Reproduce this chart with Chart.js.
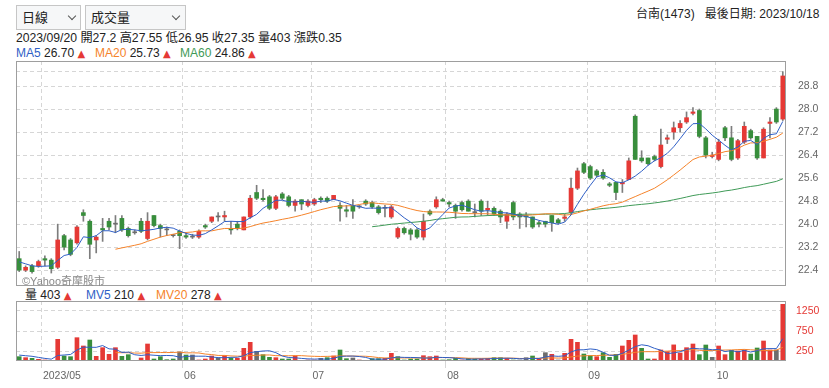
<!DOCTYPE html>
<html>
<head>
<meta charset="utf-8">
<script src="https://cdn.jsdelivr.net/npm/chart.js@4.4.0/dist/chart.umd.min.js"></script>
<style>
body { margin: 0; background: #fff; font-family: "Liberation Sans", "Noto Sans CJK TC", sans-serif; color: #222; }
#wrap { position: relative; width: 829px; height: 388px; overflow: hidden; }
.abs { position: absolute; white-space: nowrap; font-size: 12px; line-height: 14px; }
.sel { position: absolute; top: 5px; height: 25px; border: 1px solid #c6c6c6; background: #f6f7f8; box-sizing: border-box; font-size: 13px; line-height: 23px; padding-left: 5px; }
.sel i { position: absolute; top: 7px; width: 5px; height: 5px; border-right: 1.3px solid #555; border-bottom: 1.3px solid #555; transform: rotate(45deg); }
.up { color: #e53935; font-family: "DejaVu Sans", sans-serif; font-size: 10px; }
canvas { position: absolute; left: 0; }
</style>
</head>
<body>
<div id="wrap">
  <div class="sel" style="left:16px;width:65px;">日線<i style="left:52px"></i></div>
  <div class="sel" style="left:85px;width:101px;">成交量<i style="left:87px"></i></div>
  <div class="abs" style="left:636px;top:7px;">台南(1473)&nbsp;&nbsp;&nbsp;最後日期: 2023/10/18</div>
  <div class="abs" style="left:16px;top:31px;font-size:12.2px;">2023/09/20 開27.2 高27.55 低26.95 收27.35 量403 漲跌0.35</div>
  <div class="abs" style="left:16px;top:46px;"><span style="color:#2f5fc6">MA5</span> 26.70 <span class="up">▲</span></div>
  <div class="abs" style="left:95px;top:46px;"><span style="color:#f5832a">MA20</span> 25.73 <span class="up">▲</span></div>
  <div class="abs" style="left:180px;top:46px;"><span style="color:#3f9a57">MA60</span> 24.86 <span class="up">▲</span></div>

  <canvas id="price" width="829" height="225" style="top:61px"></canvas>
  <div class="abs" style="left:22px;top:274px;font-size:11px;color:#8a8a8a;">©Yahoo奇摩股市</div>

  <div class="abs" style="left:25px;top:288px;">量 403 <span class="up">▲</span></div>
  <div class="abs" style="left:86px;top:288px;"><span style="color:#2f5fc6">MV5</span> 210 <span class="up">▲</span></div>
  <div class="abs" style="left:156px;top:288px;"><span style="color:#f5832a">MV20</span> 278 <span class="up">▲</span></div>

  <canvas id="vol" width="829" height="87" style="top:301px"></canvas>
</div>

<script>
// trading days shown (2023)
const daysApr = [25, 26, 27, 28];
const daysMay = [2, 3, 4, 5, 8, 9, 10, 11, 12, 15, 16, 17, 18, 19, 22, 23, 24, 25, 26, 29, 30, 31];
const daysJun = [1, 2, 5, 6, 7, 8, 9, 12, 13, 14, 15, 16, 19, 20, 21, 26, 27, 28, 29, 30];
const daysJul = [3, 4, 5, 6, 7, 10, 11, 12, 13, 14, 17, 18, 19, 20, 21, 24, 25, 26, 27, 28, 31];
const daysAug = [1, 2, 4, 7, 8, 9, 10, 11, 14, 15, 16, 17, 18, 21, 22, 23, 24, 25, 28, 29, 30, 31];
const daysSep = [1, 4, 5, 6, 7, 8, 11, 12, 13, 14, 15, 18, 19, 20, 21, 22, 25, 26, 27, 28];
const daysOct = [2, 3, 4, 5, 6, 11, 12, 13, 16, 17, 18];

const monthTickLabels = ['2023/05', '06', '07', '08', '09', '10'];
const priceTicks = [22.4, 23.2, 24.0, 24.8, 25.6, 26.4, 27.2, 28.0, 28.8];
const priceTopGrid = 29.3; // unlabeled dashed line near the top
const volumeTicks = [250, 500, 750, 1000, 1250];

const open = [
  22.8, 22.4, 22.55, 22.55, 22.8, 22.75, 22.5, 23.6, 23.45, 23.35,
  24.4, 24.1, 23.45, 23.85, 24.1, 24.0, 24.2, 23.85, 23.7, 24.1,
  23.5, 24.3, 23.95, 23.8, 23.6, 23.75, 23.6, 23.55, 23.55, 23.95,
  24.1, 24.25, 24.25, 23.85, 24.0, 23.8, 24.25, 25.1, 24.9, 24.95,
  24.55, 25.05, 24.95, 24.65, 24.85, 24.65, 24.7, 24.9, 24.9, 24.85,
  24.65, 24.5, 24.65, 24.6, 24.8, 24.75, 24.6, 24.55, 24.25, 23.55,
  23.85, 23.8, 23.8, 23.55, 24.45, 24.6, 24.85, 24.75, 24.65, 24.75,
  24.8, 24.4, 24.8, 24.5, 24.55, 24.45, 24.1, 24.75, 24.35, 24.3,
  24.25, 24.05, 24.1, 24.3, 24.15, 24.2, 24.4, 25.25, 26.1, 26.0,
  25.85, 25.8, 25.4, 25.45, 25.4, 25.55, 27.75, 26.3, 26.3, 26.35,
  26.0, 26.95, 27.2, 27.35, 27.55, 27.85, 27.95, 27.0, 26.35, 26.25,
  27.35, 27.0, 26.3, 26.85, 27.25, 27.05, 26.3, 27.5, 28.0, 27.65
];
const high = [
  23.05, 22.55, 22.6, 22.75, 22.9, 22.8, 24.0, 23.65, 23.5, 23.95,
  24.5, 24.15, 23.6, 24.2, 24.2, 24.3, 24.3, 23.9, 23.8, 24.2,
  24.4, 24.3, 24.0, 23.9, 23.65, 23.8, 23.7, 23.65, 23.8, 24.0,
  24.25, 24.4, 24.45, 24.1, 24.1, 24.25, 25.0, 25.35, 25.2, 25.0,
  25.0, 25.1, 25.0, 24.85, 24.85, 24.85, 24.9, 24.95, 24.95, 25.0,
  24.75, 24.65, 24.85, 24.65, 24.85, 24.8, 24.65, 24.65, 24.65, 23.9,
  23.9, 23.85, 23.85, 24.35, 24.5, 24.95, 24.9, 24.8, 24.7, 24.8,
  24.85, 24.7, 24.85, 24.8, 24.6, 24.5, 24.4, 24.8, 24.4, 24.4,
  24.25, 24.1, 24.1, 24.3, 24.2, 24.35, 25.6, 25.95, 26.15, 26.05,
  25.9, 25.9, 25.45, 25.45, 25.55, 26.3, 27.8, 26.55, 26.3, 26.4,
  27.3, 27.1, 27.55, 27.6, 27.9, 28.05, 28.0, 27.05, 26.5, 26.95,
  27.4, 27.4, 26.95, 27.55, 27.3, 27.05, 27.35, 27.7, 28.05, 29.3
];
const low = [
  22.35, 22.35, 22.3, 22.5, 22.55, 22.3, 22.45, 23.1, 22.9, 23.3,
  24.1, 22.8, 23.0, 23.4, 23.8, 23.7, 23.75, 23.55, 23.65, 23.7,
  23.45, 23.9, 23.55, 23.6, 23.55, 23.15, 23.5, 23.5, 23.5, 23.85,
  24.05, 24.1, 24.1, 23.65, 23.8, 23.8, 24.2, 24.85, 24.8, 24.5,
  24.5, 24.85, 24.6, 24.45, 24.5, 24.6, 24.65, 24.75, 24.75, 24.85,
  24.1, 24.25, 24.2, 24.55, 24.65, 24.55, 24.35, 24.25, 24.2, 23.5,
  23.65, 23.45, 23.5, 23.45, 24.3, 24.55, 24.8, 24.6, 24.2, 24.45,
  24.45, 24.25, 24.3, 24.3, 24.3, 24.05, 23.85, 24.15, 23.85, 23.9,
  23.85, 23.9, 23.9, 23.75, 24.0, 24.1, 24.35, 25.2, 25.75, 25.55,
  25.65, 25.55, 25.3, 24.85, 25.1, 25.55, 26.25, 26.15, 26.05, 26.2,
  25.95, 26.8, 26.95, 27.2, 27.5, 27.8, 27.0, 26.3, 26.3, 26.2,
  26.9, 26.2, 26.25, 26.8, 26.95, 26.25, 26.3, 27.0, 27.5, 27.6
];
const close = [
  22.4, 22.5, 22.35, 22.7, 22.75, 22.45, 23.45, 23.2, 22.95, 23.9,
  24.3, 23.3, 23.55, 23.8, 23.9, 24.0, 23.8, 23.6, 23.7, 23.75,
  24.1, 23.95, 23.85, 23.8, 23.6, 23.6, 23.55, 23.55, 23.75, 23.9,
  24.25, 24.25, 24.3, 23.8, 23.85, 24.25, 24.9, 24.9, 24.85, 24.55,
  24.95, 24.9, 24.65, 24.8, 24.7, 24.8, 24.85, 24.85, 24.8, 25.0,
  24.55, 24.45, 24.45, 24.6, 24.7, 24.6, 24.4, 24.55, 24.6, 23.85,
  23.7, 23.65, 23.55, 24.1, 24.35, 24.85, 24.8, 24.7, 24.45, 24.5,
  24.45, 24.4, 24.45, 24.55, 24.35, 24.25, 24.35, 24.25, 24.25, 24.25,
  23.9, 24.0, 24.0, 24.05, 24.05, 24.25, 25.25, 25.85, 25.8, 25.6,
  25.7, 25.6, 25.35, 25.1, 25.45, 26.2, 26.25, 26.2, 26.1, 26.25,
  26.75, 27.0, 27.35, 27.5, 27.7, 27.9, 27.05, 26.4, 26.4, 26.85,
  27.0, 26.25, 26.9, 27.4, 27.0, 26.3, 27.3, 27.55, 27.55, 29.15
];
const volume = [
  108, 83, 67, 42, 25, 15, 542, 125, 108, 583,
  375, 525, 117, 333, 167, 333, 117, 158, 10, 75,
  425, 50, 108, 33, 50, 225, 150, 150, 25, 50,
  125, 75, 133, 67, 67, 317, 467, 242, 158, 92,
  83, 50, 50, 125, 15, 25, 25, 67, 83, 125,
  275, 58, 75, 25, 15, 58, 58, 67, 192, 108,
  25, 50, 50, 133, 108, 125, 25, 33, 67, 25,
  67, 50, 50, 67, 83, 83, 67, 25, 25, 83,
  125, 58, 208, 167, 25, 192, 542, 467, 175, 133,
  108, 208, 92, 167, 375, 517, 650, 317, 50, 50,
  275, 233, 403, 200, 333, 425, 158, 400, 92, 375,
  158, 267, 250, 275, 175, 325, 500, 275, 275, 1417
];
// the last few sessions before the visible window (feed the averages)
const priorCloses = [22.85, 22.7, 22.8, 22.7];
const priorVolumes = [160, 140, 180, 150];

const RED = '#e53935', GREEN = '#388e3c', FLAT = '#6d6d6d';
const BLUE_LINE = '#2f5fc6', ORANGE_LINE = '#f5832a', GREEN_LINE = '#3f9a57';
const GRID = '#d6d6d6';

const pad = n => (n < 10 ? '0' : '') + n;
const labels = [].concat(
  daysApr.map(d => '2023/04/' + pad(d)),
  daysMay.map(d => '2023/05/' + pad(d)),
  daysJun.map(d => '2023/06/' + pad(d)),
  daysJul.map(d => '2023/07/' + pad(d)),
  daysAug.map(d => '2023/08/' + pad(d)),
  daysSep.map(d => '2023/09/' + pad(d)),
  daysOct.map(d => '2023/10/' + pad(d))
);

// index of the first session of each month after the first one
const monthStarts = [];
labels.forEach((l, i) => {
  if (i > 0 && l.slice(0, 7) !== labels[i - 1].slice(0, 7)) monthStarts.push(i);
});

function movingAverage(values, prior, n) {
  const all = prior.concat(values);
  return values.map((v, i) => {
    const end = i + prior.length;
    if (end + 1 < n) return null;
    let s = 0;
    for (let k = end - n + 1; k <= end; k++) s += all[k];
    return s / n;
  });
}

const ma5 = movingAverage(close, priorCloses, 5);
const ma20 = movingAverage(close, priorCloses, 20);
const ma60 = movingAverage(close, priorCloses, 60);
const mv5 = movingAverage(volume, priorVolumes, 5);
const mv20 = movingAverage(volume, priorVolumes, 20);

const bodyColors = open.map((o, i) => close[i] > o ? RED : close[i] < o ? GREEN : FLAT);
const volColors = close.map((c, i) => {
  const prev = i === 0 ? priorCloses[priorCloses.length - 1] : close[i - 1];
  return c > prev ? RED : c < prev ? GREEN : FLAT;
});

const monthGrid = ctx => monthStarts.includes(ctx.index) ? GRID : 'rgba(0,0,0,0)';

// keep the plot box exactly where the panel is: no label overflow padding
function fixSize(prop, size) {
  return s => {
    s[prop] = size;
    s.paddingTop = 0; s.paddingBottom = 0; s.paddingLeft = 0; s.paddingRight = 0;
  };
}

const boxPlugin = {
  id: 'box',
  afterDatasetsDraw(chart) {
    const { ctx, chartArea: a } = chart;
    ctx.save();
    ctx.strokeStyle = '#9e9e9e';
    ctx.lineWidth = 1;
    ctx.strokeRect(a.left + 0.5, a.top + 0.5, a.right - a.left - 1, a.bottom - a.top - 1);
    ctx.restore();
  }
};

Chart.defaults.font.family = '"Liberation Sans", "Noto Sans CJK TC", sans-serif';

function line(data, color) {
  return { type: 'line', data, borderColor: color, borderWidth: 1, pointRadius: 0, tension: 0, order: 0 };
}

new Chart(document.getElementById('price'), {
  type: 'bar',
  data: {
    labels,
    datasets: [
      line(ma5, BLUE_LINE),
      line(ma20, ORANGE_LINE),
      line(ma60, GREEN_LINE),
      {
        data: open.map((o, i) => [o, close[i]]),
        backgroundColor: bodyColors,
        barThickness: 4, minBarLength: 1, grouped: false, order: 1
      },
      {
        data: low.map((l, i) => [l, high[i]]),
        backgroundColor: '#7d7d7d',
        barThickness: 1, grouped: false, order: 2
      }
    ]
  },
  options: {
    responsive: false,
    animation: false,
    devicePixelRatio: 1,
    layout: { autoPadding: false, padding: { left: 16, right: 0, top: 0, bottom: 0 } },
    plugins: { legend: { display: false }, tooltip: { enabled: false } },
    scales: {
      x: {
        ticks: { display: false, autoSkip: false },
        grid: { color: monthGrid, drawTicks: false },
        border: { display: false, dash: [4, 3] },
        afterFit: fixSize('height', 0)
      },
      y: {
        position: 'right',
        min: 21.85,
        max: 29.67,
        afterBuildTicks: s => { s.ticks = priceTicks.concat(priceTopGrid).map(v => ({ value: v })); },
        ticks: {
          callback: v => priceTicks.includes(v) ? v.toFixed(1) : '',
          padding: 12, color: '#666', font: { size: 10.5 }
        },
        grid: { color: GRID, drawTicks: false },
        border: { display: false, dash: [4, 3] },
        afterFit: fixSize('width', 43)
      }
    }
  },
  plugins: [boxPlugin]
});

new Chart(document.getElementById('vol'), {
  type: 'bar',
  data: {
    labels,
    datasets: [
      line(mv5, BLUE_LINE),
      line(mv20, ORANGE_LINE),
      { data: volume, backgroundColor: volColors, barThickness: 4, grouped: false, order: 1 }
    ]
  },
  options: {
    responsive: false,
    animation: false,
    devicePixelRatio: 1,
    layout: { autoPadding: false, padding: { left: 16, right: 0, top: 0, bottom: 0 } },
    plugins: { legend: { display: false }, tooltip: { enabled: false } },
    scales: {
      x: {
        ticks: {
          autoSkip: false, maxRotation: 0, minRotation: 0, align: 'start', labelOffset: -2,
          padding: 2, color: '#666', font: { size: 10.5 },
          callback: (v, i) => {
            const k = monthStarts.indexOf(i);
            return k >= 0 ? monthTickLabels[k] : '';
          }
        },
        grid: { color: monthGrid, tickColor: monthGrid, tickLength: 7 },
        border: { display: false, dash: [4, 3] },
        afterFit: fixSize('height', 27)
      },
      y: {
        position: 'right',
        min: 0,
        max: 1500,
        afterBuildTicks: s => { s.ticks = volumeTicks.map(v => ({ value: v })); },
        ticks: { callback: v => String(v), padding: 10, color: RED, font: { size: 10.5 } },
        grid: { color: GRID, drawTicks: false },
        border: { display: false, dash: [4, 3] },
        afterFit: fixSize('width', 43)
      }
    }
  },
  plugins: [boxPlugin]
});
</script>
</body>
</html>
